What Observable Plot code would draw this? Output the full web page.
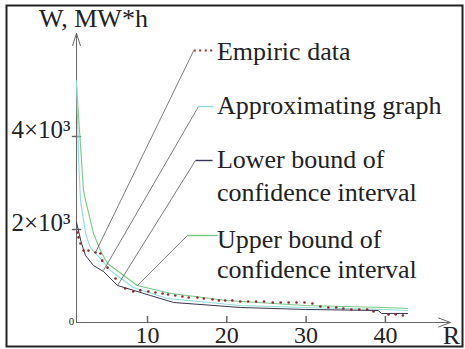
<!DOCTYPE html>
<html><head><meta charset="utf-8">
<script src="https://cdn.jsdelivr.net/npm/d3@7"></script>
<script src="https://cdn.jsdelivr.net/npm/@observablehq/plot@0.6"></script>
<style>body{margin:0;background:#fff} svg{display:block}</style>
</head><body><div id="chart"></div>
<script>
// Empiric data (R, W)
const empR = [1.17,1.3,1.55,1.93,2.56,3.44,4.07,4.3,4.96,5.97,7.2,8.2,9.1,10.1,11.0,11.9,12.6,13.5,14.4,15.2,16.3,17.1,18.2,19.0,19.8,20.7,21.7,22.7,23.7,24.7,25.8,26.8,27.8,28.8,29.8,30.8,31.8,32.8,33.8,34.7,35.7,36.7,37.7,38.5,40.4,41.3,42.2];
const empW = [1935,1830,1700,1550,1550,1505,1485,1330,1180,945,730,667,690,667,645,624,602,580,560,538,538,516,495,473,473,473,452,452,452,452,430,430,430,430,430,409,344,323,323,301,280,280,280,237,172,172,150];
// Approximating graph
const apprR = [1.05,1.3,1.55,2.2,2.8,4.07,5.33,8.2,12.5,21.7,29.9,39.9,42.8];
const apprW = [5200,3550,2620,1910,1610,1376,1118,753,516,366,323,280,258];
// Upper bound of confidence interval
const upR = [1.05,1.93,2.2,2.8,3.2,4.07,4.96,8.7,13,20,29.9,39.9,42.8];
const upW = [5100,2840,2620,2190,1910,1550,1270,796,624,473,366,323,300];
// Lower bound of confidence interval
const loR = [1.05,1.68,2.18,3.19,4.45,6.22,10.38,13.3,21.7,29.9,39.1,39.5,42.8];
const loW = [2150,1700,1441,1226,1097,796,580,430,323,280,258,194,194];

const xTicks = [10,20,30,40];
const yTicks = [2000,4000];
const yTickLabels = ["2×10³","4×10³"];

const colEmp = "#8a2e2e", colAppr = "#8edcd8", colUp = "#78c886", colLo = "#3a3450";

// legend / annotation anchors (data coordinates)
const legKeys = ["emp","appr","lo","up"];
const legColors = [colEmp, colAppr, colLo, colUp];
const legStartR = [15.83,16.43,16.05,15.04];
const legEndR = [18.45,18.32,18.2,18.83];
const legW = [5849,4645,3484,1871];
const leaderR = [3.44,4.45,6.22,8.74];
const leaderW = [1505,1118,796,796];
const legLines = ["Empiric data","Approximating graph","Lower bound of","confidence interval","Upper bound of","confidence interval"];
const legLineW = [5834,4673,3512,2802,1791,1146];
const legTextR = 18.75;

const axisR0 = 1.05, axisREnd = 48.2, axisWEnd = 6215;

const zip = (a,b) => a.map((v,i)=>({R:v, W:b[i]}));
const emp = zip(empR, empW), appr = zip(apprR, apprW), up = zip(upR, upW), lo = zip(loR, loW);
const legend = legKeys.map((k,i)=>({k, c:legColors[i], r0:legStartR[i], r1:legEndR[i], w:legW[i], lr:leaderR[i], lw:leaderW[i]}));
const legText = legLines.map((t,i)=>({t, w:legLineW[i]}));

const tickShape = {draw(ctx, l){ ctx.moveTo(0,0); ctx.lineTo(0,-l); }};
const font = "'Liberation Serif', Tinos, 'DejaVu Serif', 'Noto Serif', serif";
const T = {fill: "#222"};

const chart = Plot.plot({
  width: 465, height: 349,
  marginLeft: 6, marginTop: 5, marginRight: 3, marginBottom: 3,
  style: {fontFamily: font, background: "#fff"},
  x: {domain: [0, 50], range: [67.7, 67.7 + 50*7.93], axis: null},
  y: {domain: [0, 6000], range: [322, 322 - 6000*0.0465], axis: null},
  marks: [
    Plot.frame({stroke: "#222", strokeWidth: 2}),
    // axes with arrows
    Plot.arrow([0], {x1: axisR0, y1: 0, x2: axisR0, y2: axisWEnd, stroke: "#666", strokeWidth: 1, headLength: 19, headAngle: 36}),
    Plot.arrow([0], {x1: axisR0, y1: 0, x2: axisREnd, y2: 0, stroke: "#666", strokeWidth: 1, headLength: 19, headAngle: 42}),
    Plot.vector(xTicks, {x: d=>d, y: 0, length: 6, rotate: 0, anchor: "start", shape: tickShape, stroke: "#666"}),
    Plot.vector(yTicks, {x: axisR0, y: d=>d, length: 8, rotate: 90, anchor: "middle", shape: tickShape, stroke: "#666"}),
    Plot.text(xTicks, {x: d=>d, y: 0, dy: 13, text: d=>String(d), fontSize: 24, ...T}),
    Plot.text(yTicks, {x: axisR0, y: d=>d, dx: -6, dy: -7, text: (d,i)=>yTickLabels[i], textAnchor: "end", fontSize: 25, ...T}),
    Plot.text([0], {x: axisR0, y: 0, dx: -5, dy: -1, text: ["0"], textAnchor: "middle", fontSize: 11, ...T}),
    Plot.text(["W, MW*h"], {x: 3.19, y: 6544, text: d=>d, fontSize: 26, ...T}),
    Plot.text(["R"], {x: 48.33, y: -273, text: d=>d, fontSize: 26, ...T}),
    // curves
    Plot.line(up, {x: "R", y: "W", stroke: colUp, strokeWidth: 1.1}),
    Plot.line(appr, {x: "R", y: "W", stroke: colAppr, strokeWidth: 1.1}),
    Plot.line(lo, {x: "R", y: "W", stroke: colLo, strokeWidth: 1}),
    Plot.dot(emp, {x: "R", y: "W", r: 1.3, fill: colEmp, stroke: null}),
    // legend
    Plot.link(legend, {x1: "lr", y1: "lw", x2: "r0", y2: "w", stroke: "#444", strokeWidth: 0.7}),
    Plot.link(legend.filter(d=>d.k!=="emp"), {x1: "r0", y1: "w", x2: "r1", y2: "w", stroke: "c", strokeWidth: 1.4}),
    Plot.link(legend.filter(d=>d.k==="emp"), {x1: "r0", y1: "w", x2: "r1", y2: "w", stroke: "c", strokeWidth: 2, strokeDasharray: "2,3.5"}),
    Plot.text(legText, {x: legTextR, y: "w", text: "t", textAnchor: "start", fontSize: 26, ...T})
  ]
});
chart.querySelectorAll("text").forEach(t => { t.setAttribute("font-family", font); t.style.fontFamily = font; });
document.getElementById("chart").appendChild(chart);
</script>
</body></html>
